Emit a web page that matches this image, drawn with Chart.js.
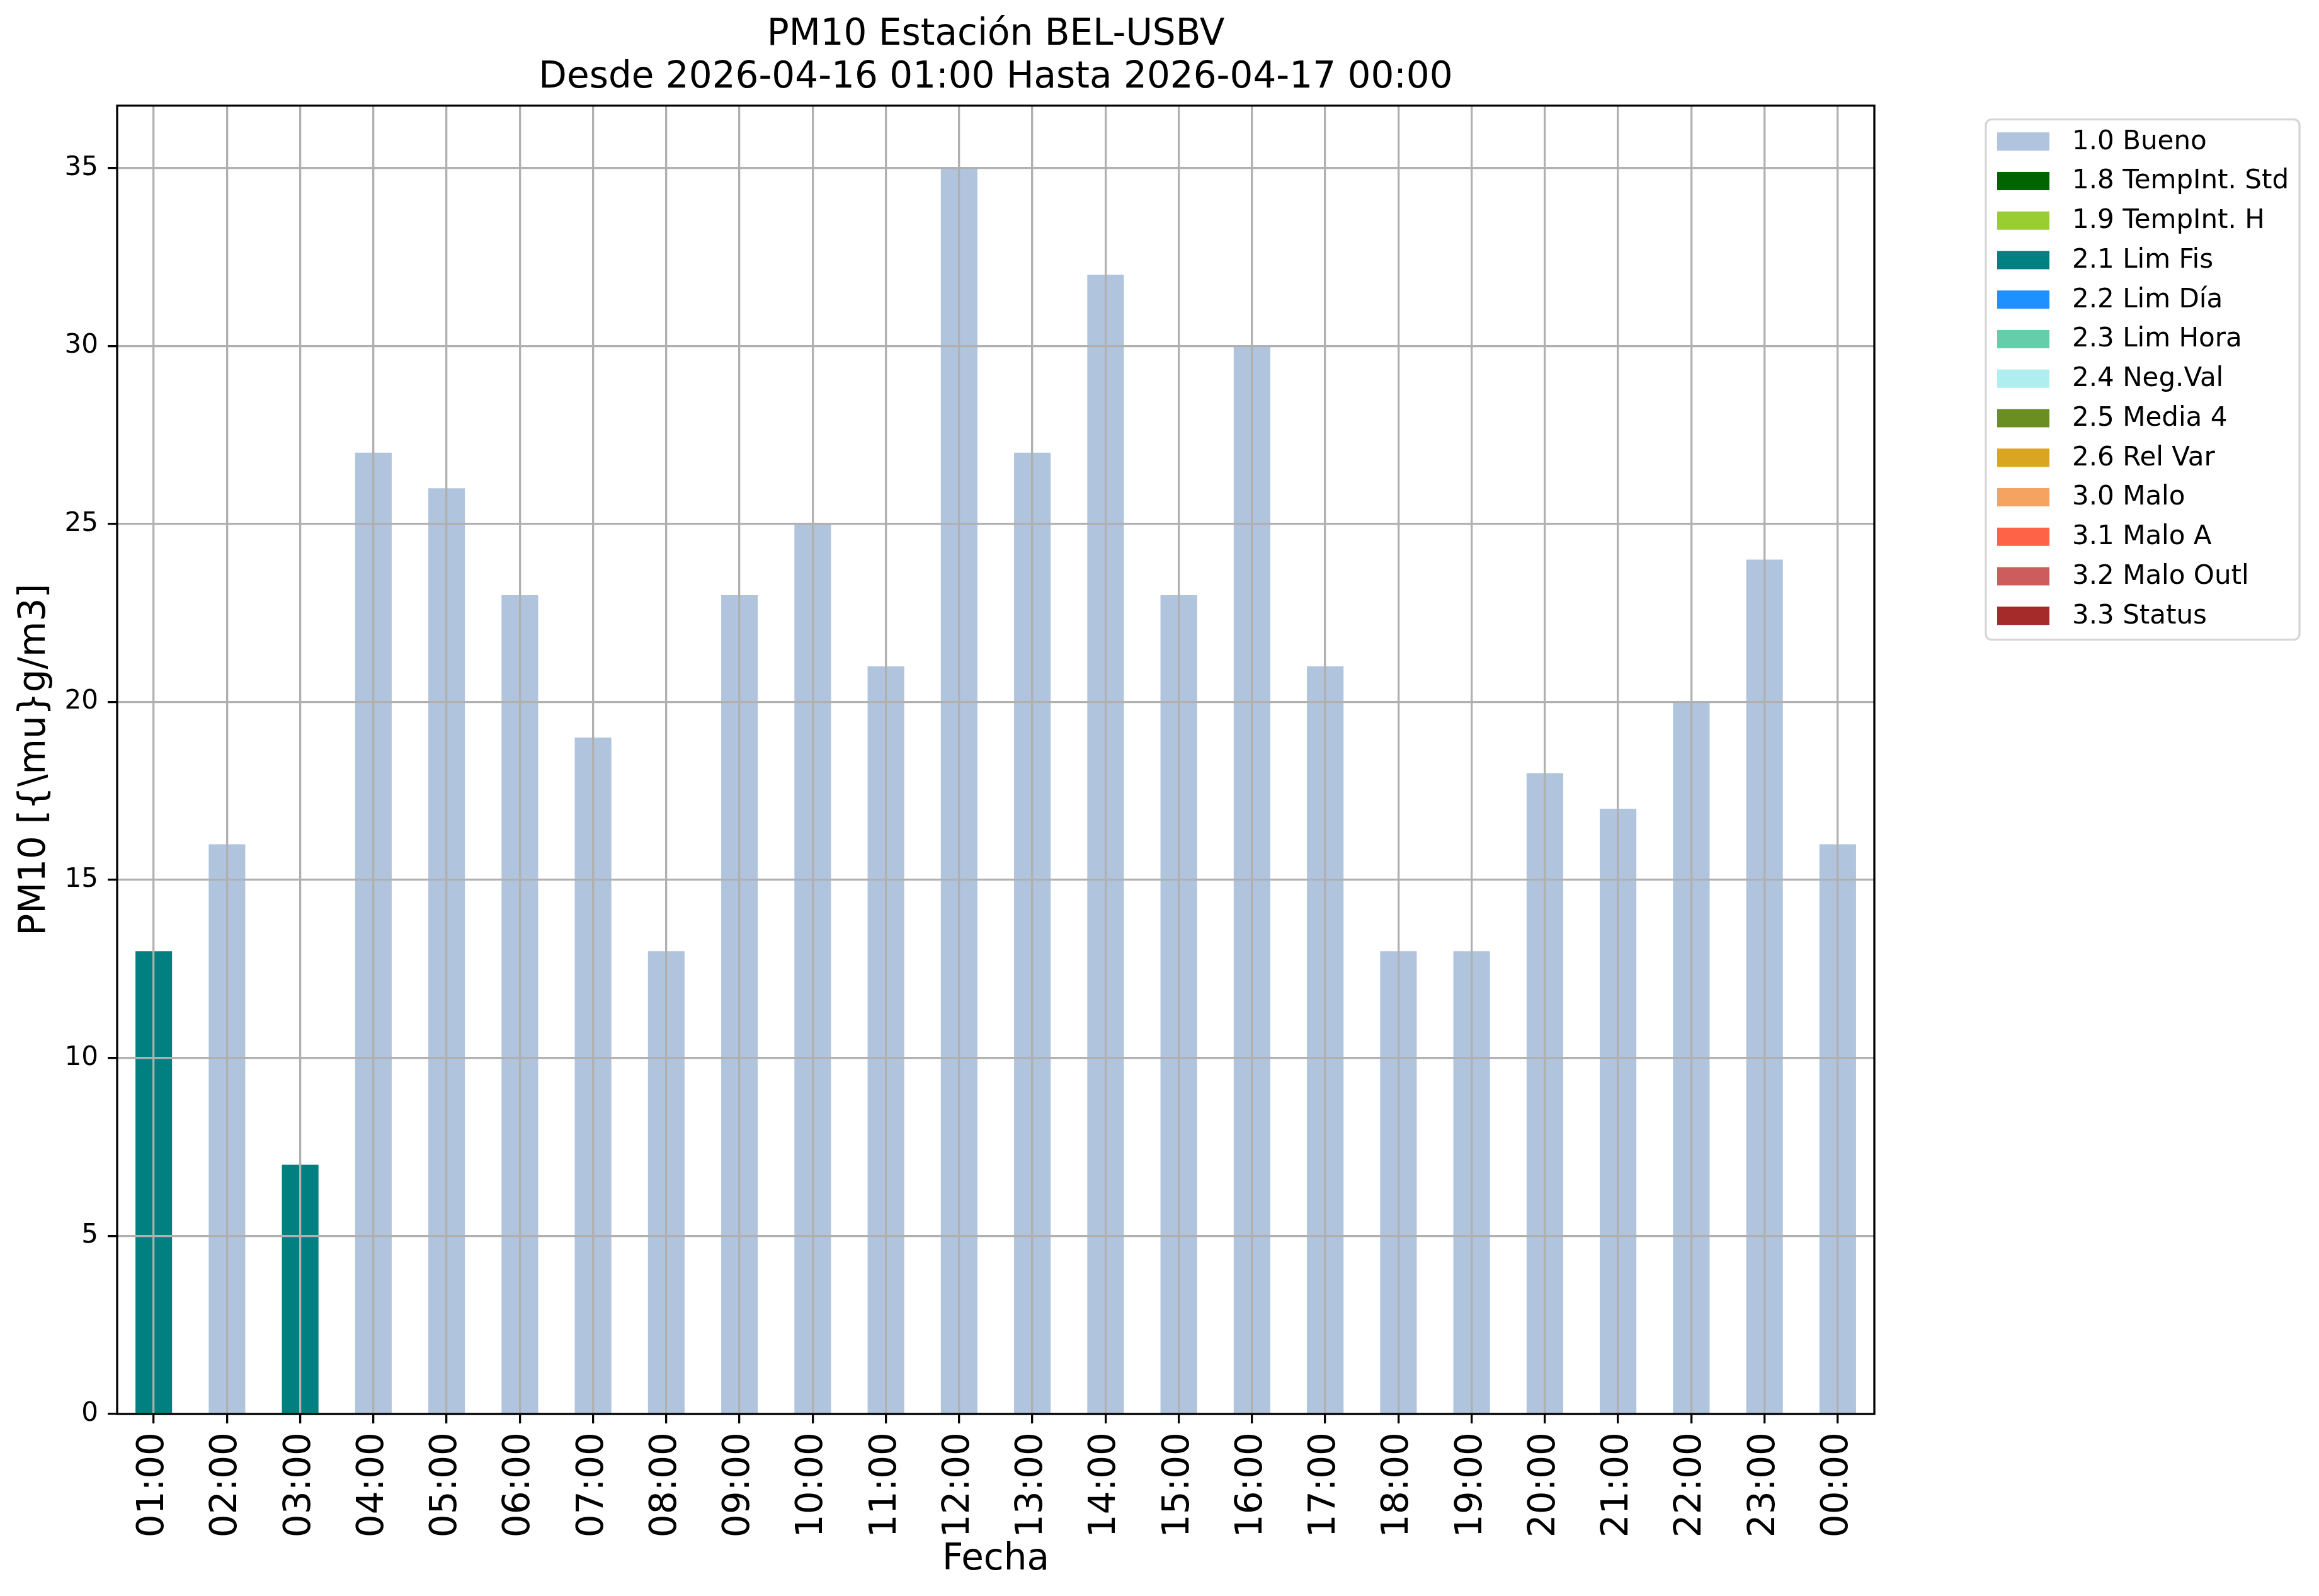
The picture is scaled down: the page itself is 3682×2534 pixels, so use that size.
<!DOCTYPE html>
<html>
<head>
<meta charset="utf-8">
<title>PM10 Estación BEL-USBV</title>
<script src="https://cdn.jsdelivr.net/npm/chart.js@4.4.1/dist/chart.umd.min.js"></script>
<style>
  html, body { margin: 0; padding: 0; background: #fff; }
  canvas { display: block; }
</style>
</head>
<body>
<canvas id="pmChart" width="3682" height="2534" style="width:3682px;height:2534px"></canvas>
<script>
// Hourly categories
const hours = ["01:00", "02:00", "03:00", "04:00", "05:00", "06:00", "07:00", "08:00",
  "09:00", "10:00", "11:00", "12:00", "13:00", "14:00", "15:00", "16:00",
  "17:00", "18:00", "19:00", "20:00", "21:00", "22:00", "23:00", "00:00"];

// PM10 values per hour
const pm10 = [13, 16, 7, 27, 26, 23, 19, 13, 23, 25, 21, 35,
  27, 32, 23, 30, 21, 13, 13, 18, 17, 20, 24, 16];

// Quality flag for each hour
const hourFlags = ["2.1 Lim Fis", "1.0 Bueno", "2.1 Lim Fis", "1.0 Bueno", "1.0 Bueno", "1.0 Bueno",
  "1.0 Bueno", "1.0 Bueno", "1.0 Bueno", "1.0 Bueno", "1.0 Bueno", "1.0 Bueno",
  "1.0 Bueno", "1.0 Bueno", "1.0 Bueno", "1.0 Bueno", "1.0 Bueno", "1.0 Bueno",
  "1.0 Bueno", "1.0 Bueno", "1.0 Bueno", "1.0 Bueno", "1.0 Bueno", "1.0 Bueno"];

// Legend categories and their colours
const flagLabels = ["1.0 Bueno", "1.8 TempInt. Std", "1.9 TempInt. H", "2.1 Lim Fis", "2.2 Lim Día",
  "2.3 Lim Hora", "2.4 Neg.Val", "2.5 Media 4", "2.6 Rel Var", "3.0 Malo", "3.1 Malo A",
  "3.2 Malo Outl", "3.3 Status"];
const flagColors = ["#b0c4de", "#006400", "#9acd32", "#008080", "#1e90ff", "#66cdaa", "#afeeee",
  "#6b8e23", "#daa520", "#f4a460", "#ff6347", "#cd5c5c", "#a52a2a"];

const yTicks = [0, 5, 10, 15, 20, 25, 30, 35];

const FONT = "DejaVu Sans";
const GRID = "#b0b0b0";
const LW = 3.3;

// one stacked dataset per flag, value only where the hour has that flag
const datasets = flagLabels.map((label, i) => ({
  label: label,
  data: pm10.map((v, h) => hourFlags[h] === label ? v : null),
  backgroundColor: flagColors[i],
  borderWidth: 0,
  barPercentage: 0.5,
  categoryPercentage: 1.0
}));

// black frame round the plot area (all four spines)
const frame = {
  id: "frame",
  afterDraw(chart) {
    const { ctx, chartArea: a } = chart;
    ctx.save();
    ctx.strokeStyle = "#000";
    ctx.lineWidth = LW;
    ctx.strokeRect(a.left, a.top, a.right - a.left, a.bottom - a.top);
    ctx.restore();
  }
};

// matplotlib style legend outside the axes
const sideLegend = {
  id: "sideLegend",
  afterDraw(chart) {
    const { ctx, chartArea: a } = chart;
    const sets = chart.data.datasets;
    const x0 = a.right + 177, y0 = a.top + 22;
    const w = 498, step = 62.75;
    const h = 33 + (sets.length - 1) * step + 40;
    const r = 9;

    ctx.save();
    ctx.beginPath();
    ctx.moveTo(x0 + r, y0);
    ctx.lineTo(x0 + w - r, y0);
    ctx.arcTo(x0 + w, y0, x0 + w, y0 + r, r);
    ctx.lineTo(x0 + w, y0 + h - r);
    ctx.arcTo(x0 + w, y0 + h, x0 + w - r, y0 + h, r);
    ctx.lineTo(x0 + r, y0 + h);
    ctx.arcTo(x0, y0 + h, x0, y0 + h - r, r);
    ctx.lineTo(x0, y0 + r);
    ctx.arcTo(x0, y0, x0 + r, y0, r);
    ctx.closePath();
    ctx.fillStyle = "rgba(255,255,255,0.8)";
    ctx.fill();
    ctx.strokeStyle = "#d6d6d6";
    ctx.lineWidth = LW;
    ctx.stroke();

    ctx.font = "42px '" + FONT + "'";
    ctx.textBaseline = "middle";
    ctx.textAlign = "left";
    sets.forEach((ds, i) => {
      const y = y0 + 35 + i * step;
      ctx.fillStyle = ds.backgroundColor;
      ctx.fillRect(x0 + 18, y - 14.5, 83, 29);
      ctx.fillStyle = "#000";
      ctx.fillText(ds.label, x0 + 137, y + 1);
    });
    ctx.restore();
  }
};

const ctx = document.getElementById("pmChart").getContext("2d");
new Chart(ctx, {
  type: "bar",
  data: {
    labels: hours,
    datasets: datasets
  },
  options: {
    responsive: false,
    animation: false,
    devicePixelRatio: 1,
    layout: { padding: { left: 0, right: 706, top: 0, bottom: 0 } },
    plugins: {
      legend: { display: false },
      tooltip: { enabled: false },
      title: {
        display: true,
        fullSize: false,
        text: ["PM10 Estación BEL-USBV", "Desde 2026-04-16 01:00 Hasta 2026-04-17 00:00"],
        color: "#000",
        font: { family: FONT, size: 58, weight: "normal", lineHeight: 1.17 },
        padding: { top: 22, bottom: 10 }
      }
    },
    scales: {
      x: {
        stacked: true,
        offset: true,
        afterFit(scale) { scale.height = 289; },
        grid: {
          offset: false,
          color: GRID,
          lineWidth: LW,
          z: 1,
          drawTicks: true,
          tickLength: 15,
          tickColor: "#000",
          tickWidth: LW
        },
        border: { display: false },
        ticks: {
          color: "#000",
          font: { family: FONT, size: 58 },
          minRotation: 90,
          maxRotation: 90,
          autoSkip: false,
          padding: 14
        },
        title: {
          display: true,
          text: "Fecha",
          color: "#000",
          font: { family: FONT, size: 58 },
          padding: { top: 0, bottom: 22 }
        }
      },
      y: {
        stacked: true,
        min: 0,
        max: 36.75,
        afterFit(scale) { scale.width = 186; },
        afterBuildTicks(scale) { scale.ticks = yTicks.map(v => ({ value: v })); },
        grid: {
          color: GRID,
          lineWidth: LW,
          z: 1,
          drawTicks: true,
          tickLength: 15,
          tickColor: "#000",
          tickWidth: LW
        },
        border: { display: false },
        ticks: {
          color: "#000",
          font: { family: FONT, size: 42 },
          padding: 15
        },
        title: {
          display: true,
          text: "PM10 [{\\mu}g/m3]",
          color: "#000",
          font: { family: FONT, size: 58 },
          padding: { top: 21, bottom: 0 }
        }
      }
    }
  },
  plugins: [frame, sideLegend]
});
</script>
</body>
</html>
